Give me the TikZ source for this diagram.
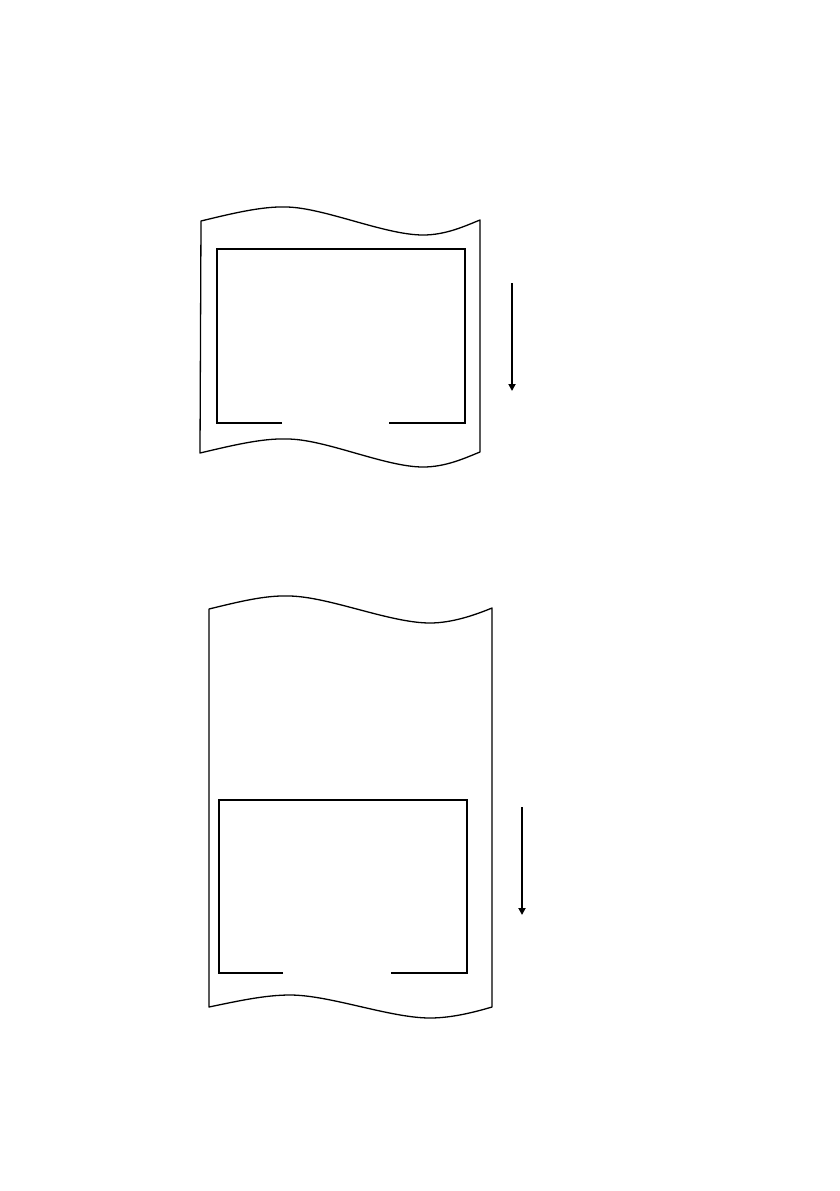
\documentclass[tikz,border=0pt]{standalone}
\usetikzlibrary{arrows.meta}
\begin{document}
\begin{tikzpicture}[x=1pt,y=-1pt,
  sheet/.style={line width=1.3pt,line join=round},
  window/.style={line width=2pt},
  feed/.style={line width=2.4pt,-{Triangle[length=7pt,width=7pt]}}]
\useasboundingbox[fill=white] (0,0) rectangle (839,1191);
% ---------- top sheet ----------
\draw[sheet] (201,221) .. controls (230,214) and (262,206) .. (287,207)
  .. controls (325,208) and (385,235) .. (423,235)
  .. controls (446,235) and (465,226) .. (480,220)
  -- (480,452)
  .. controls (465,458) and (446,467) .. (423,467)
  .. controls (385,467) and (325,439) .. (287,439)
  .. controls (262,438) and (230,446) .. (200,453) -- cycle;
\draw[window] (282,423) -- (217,423) -- (217,249) -- (465,249) -- (465,423) -- (389,423);
\coordinate (a1s) at (512,283);
\coordinate (a1e) at (512,391);
\draw[feed] (a1s) -- (a1e);
% ---------- bottom sheet ----------
\draw[sheet] (209,609) .. controls (238,602) and (265,595) .. (290,596)
  .. controls (330,597) and (390,623) .. (430,623)
  .. controls (452,623) and (475,615) .. (492,608)
  -- (492,1007)
  .. controls (475,1012) and (452,1018) .. (430,1018)
  .. controls (390,1018) and (330,995) .. (290,995)
  .. controls (265,995) and (238,1001) .. (209,1007) -- cycle;
\draw[window] (283,973) -- (219,973) -- (219,800) -- (467,800) -- (467,973) -- (391,973);
\coordinate (a2s) at (522,807);
\coordinate (a2e) at (522,915);
\draw[feed] (a2s) -- (a2e);
\end{tikzpicture}
\end{document}
